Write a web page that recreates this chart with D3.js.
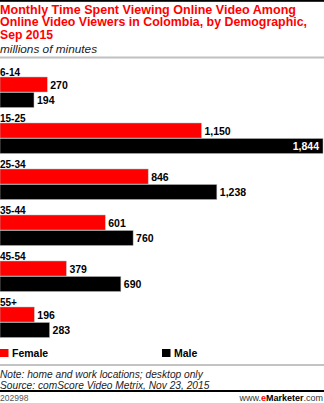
<!DOCTYPE html>
<html><head><meta charset="utf-8">
<script src="https://cdn.jsdelivr.net/npm/d3@7"></script>
<style>
html,body{margin:0;padding:0;background:#fff;}
svg{display:block;font-family:Arial,"Liberation Sans",sans-serif;}
</style></head>
<body>
<svg id="c" width="324" height="403"></svg>
<script>
const categories = ["6-14","15-25","25-34","35-44","45-54","55+"];
const female = [270,1150,846,601,379,196];
const male = [194,1844,1238,760,690,283];
const seriesNames = ["Female","Male"];
const colors = ["#ff0000","#000000"];

const svg = d3.select("#c");
const W = 324;

// top border
svg.append("rect").attr("x",0).attr("y",0).attr("width",W).attr("height",1.8).attr("fill","#000");

const title = ["Monthly Time Spent Viewing Online Video Among","Online Video Viewers in Colombia, by Demographic,","Sep 2015"];
const titleLen = [296, 307, 53];
svg.append("g").selectAll("text").data(title).join("text")
  .attr("x",0).attr("y",(d,i)=>14+i*12.3)
  .attr("fill","#ff0000").attr("font-weight","bold").attr("font-size","12.2px")
  .attr("textLength",(d,i)=>titleLen[i]).attr("lengthAdjust","spacingAndGlyphs")
  .text(d=>d);
svg.append("text").attr("x",0).attr("y",53).attr("font-style","italic").attr("font-size","11.8px")
  .attr("fill","#222").text("millions of minutes");
svg.append("rect").attr("x",0).attr("y",56.5).attr("width",W).attr("height",2).attr("fill","#c0c0c0");

const x = d3.scaleLinear().domain([0,1844]).range([0,323]);
const y = d3.scaleBand().domain(categories).range([67,343]).paddingInner(0).paddingOuter(0);
const barH = 15;

const groups = svg.append("g").selectAll("g").data(categories).join("g")
  .attr("transform",d=>`translate(0,${y(d)})`);
groups.append("text").attr("x",0).attr("y",8.5).attr("font-weight","bold").attr("font-size","10px")
  .attr("fill","#000").text(d=>d);

categories.forEach((c,i)=>{
  const g = d3.select(groups.nodes()[i]);
  [female[i],male[i]].forEach((v,j)=>{
    const yy = 10 + j*(barH+0.5);
    g.append("rect").attr("x",0).attr("y",yy).attr("width",x(v)).attr("height",barH)
      .attr("fill",colors[j]).attr("stroke","#bbb").attr("stroke-width",0.5);
    const inside = x(v) > 290;
    g.append("text")
      .attr("x", inside ? x(v)-4 : x(v)+3)
      .attr("y", yy+barH/2+4)
      .attr("text-anchor", inside ? "end" : "start")
      .attr("font-weight","bold").attr("font-size","10.5px")
      .attr("fill", inside ? "#fff" : "#000")
      .text(d3.format(",")(v));
  });
});

// legend
const leg = svg.append("g").selectAll("g").data(seriesNames).join("g")
  .attr("transform",(d,i)=>`translate(${i===0?0:162},349)`);
leg.append("rect").attr("width",8.5).attr("height",8).attr("fill",(d,i)=>colors[i]);
leg.append("text").attr("x",12).attr("y",8).attr("font-weight","bold").attr("font-size","10.5px").text(d=>d);

svg.append("rect").attr("x",0).attr("y",364.5).attr("width",W).attr("height",1).attr("fill","#888");
svg.append("text").attr("x",0).attr("y",377.5).attr("font-style","italic").attr("font-size","10.2px").attr("fill","#222")
  .text("Note: home and work locations; desktop only");
svg.append("text").attr("x",0).attr("y",388.5).attr("font-style","italic").attr("font-size","10.2px").attr("fill","#222")
  .text("Source: comScore Video Metrix, Nov 23, 2015");
svg.append("rect").attr("x",0).attr("y",390).attr("width",W).attr("height",2).attr("fill","#000");
svg.append("text").attr("x",0).attr("y",401).attr("font-size","8.5px").attr("fill","#555").text("202998");
const em = svg.append("text").attr("x",W-1).attr("y",401).attr("text-anchor","end").attr("font-size","9px").attr("fill","#333");
em.append("tspan").text("www.");
em.append("tspan").attr("fill","#ff0000").attr("font-weight","bold").text("e");
em.append("tspan").attr("font-weight","bold").attr("fill","#000").text("Marketer");
em.append("tspan").text(".com");
</script>
</body></html>
